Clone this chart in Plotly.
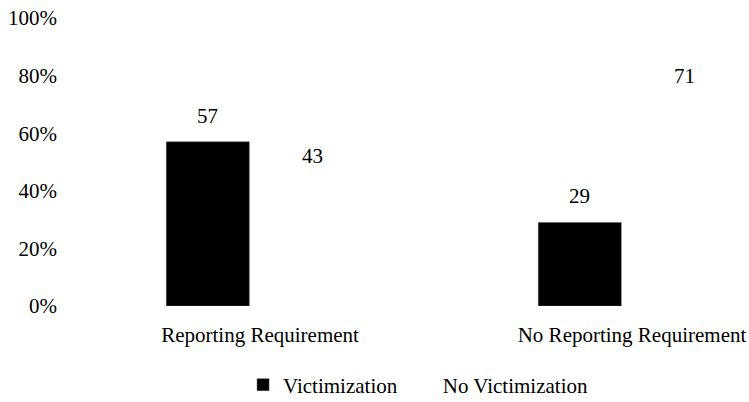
import plotly.graph_objects as go

categories = ["Reporting Requirement", "No Reporting Requirement"]
victimization = [57, 29]
no_victimization = [43, 71]
y_ticks = [0, 20, 40, 60, 80, 100]
y_tick_labels = ["0%", "20%", "40%", "60%", "80%", "100%"]

FONT = "Liberation Serif"
FS = 21

fig = go.Figure()
fig.add_trace(go.Bar(name="Victimization", x=categories, y=victimization,
                     marker=dict(color="black", line=dict(color="#555", width=0.5))))
fig.add_trace(go.Bar(name="No Victimization", x=categories, y=no_victimization,
                     marker=dict(color="white", line=dict(width=0))))

# value labels above bars
slot = 0.281
for i, v in enumerate(victimization):
    fig.add_annotation(x=i - slot / 2, y=v, text=str(v), showarrow=False,
                       yshift=26, font=dict(family=FONT, size=FS, color="black"))
for i, v in enumerate(no_victimization):
    fig.add_annotation(x=i + slot / 2, y=v, text=str(v), showarrow=False,
                       yshift=26, font=dict(family=FONT, size=FS, color="black"))

fig.update_layout(
    width=749, height=402,
    margin=dict(l=70, r=0, t=18, b=96, autoexpand=False),
    paper_bgcolor="white", plot_bgcolor="white",
    font=dict(family=FONT, size=FS, color="black"),
    barmode="group", bargap=0.438, bargroupgap=0.206,
    showlegend=True,
    legend=dict(orientation="h", x=0.5126, xanchor="center",
                yref="container", y=1 - 385 / 402, yanchor="middle",
                font=dict(family=FONT, size=FS, color="black"), itemwidth=30),
    xaxis=dict(range=[-0.511, 1.3145], showgrid=False, zeroline=False, showline=False,
               ticks="", ticklabelstandoff=14, automargin=False,
               tickfont=dict(family=FONT, size=FS, color="black")),
    yaxis=dict(range=[0, 100], tickvals=y_ticks, ticktext=y_tick_labels, showgrid=False,
               zeroline=False, showline=False, ticks="", ticklabelstandoff=12,
               automargin=False,
               tickfont=dict(family=FONT, size=FS, color="black")),
)

fig.write_html("out.html")
